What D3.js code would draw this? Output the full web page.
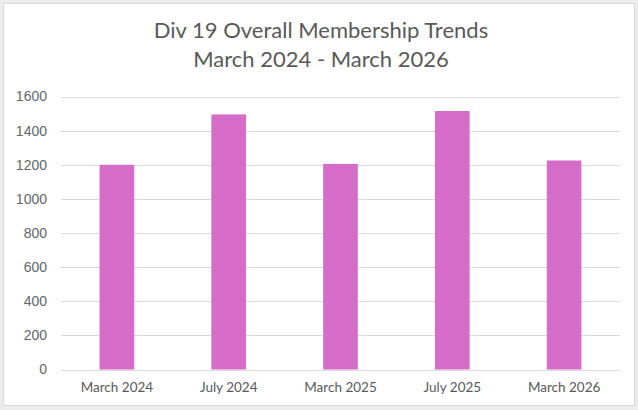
<!DOCTYPE html>
<html>
<head>
<meta charset="utf-8">
<script src="https://cdn.jsdelivr.net/npm/d3@7"></script>
<style>
  html, body { margin: 0; padding: 0; background: #ececec; }
  svg { display: block; }
</style>
</head>
<body>
<svg id="chart" width="638" height="410"></svg>
<script>
// Membership counts by reporting period
const periods = ["March 2024", "July 2024", "March 2025", "July 2025", "March 2026"];
const members = [1200, 1495, 1205, 1515, 1225];
const yTicks = [0, 200, 400, 600, 800, 1000, 1200, 1400, 1600];
const titleLines = ["Div 19 Overall Membership Trends", "March 2024 - March 2026"];

const svg = d3.select("#chart");
const W = 638, H = 410;
const margin = { top: 96.5, right: 18, bottom: 40.5, left: 61 };
const titleFont = "Lato, 'Noto Sans', sans-serif";
const valueFont = "'Liberation Sans', Arial, sans-serif";

// white chart panel with thin border
svg.append("rect")
  .attr("x", 3.5).attr("y", 3.5)
  .attr("width", 631).attr("height", 402)
  .attr("fill", "#ffffff").attr("stroke", "#d9d9d9").attr("stroke-width", 1);

const x = d3.scaleBand()
  .domain(periods)
  .range([margin.left, W - margin.right])
  .paddingInner(0.69)
  .paddingOuter(0.345);

const y = d3.scaleLinear()
  .domain([0, 1600])
  .range([H - margin.bottom, margin.top]);

// horizontal gridlines
svg.append("g")
  .selectAll("line")
  .data(yTicks)
  .join("line")
  .attr("x1", margin.left).attr("x2", W - margin.right)
  .attr("y1", d => Math.round(y(d)) + 0.5).attr("y2", d => Math.round(y(d)) + 0.5)
  .attr("stroke", "#d9d9d9").attr("stroke-width", 1.2);

// bars
svg.append("g")
  .selectAll("rect")
  .data(periods.map((p, i) => ({ p, v: members[i] })))
  .join("rect")
  .attr("x", d => x(d.p))
  .attr("width", x.bandwidth())
  .attr("y", d => y(d.v))
  .attr("height", d => y(0) - y(d.v))
  .attr("fill", "#d56dc8");

// y axis labels
const yAxis = svg.append("g")
  .attr("transform", `translate(47,0)`)
  .call(d3.axisLeft(y).tickValues(yTicks).tickSize(0).tickPadding(0).tickFormat(d3.format("d")));
yAxis.select(".domain").remove();
yAxis.selectAll("text")
  .attr("fill", "#666666").style("font-family", valueFont).style("font-size", "14px");

// x axis labels
const xAxis = svg.append("g")
  .attr("transform", `translate(0,${H - margin.bottom})`)
  .call(d3.axisBottom(x).tickSize(0).tickPadding(13));
xAxis.select(".domain").remove();
xAxis.selectAll("text")
  .attr("fill", "#595959").style("font-family", titleFont).style("font-size", "13.5px");

// title
svg.append("g")
  .selectAll("text")
  .data(titleLines)
  .join("text")
  .attr("x", 321)
  .attr("y", (d, i) => 38 + i * 29)
  .attr("text-anchor", "middle")
  .attr("fill", "#595959")
  .style("font-family", titleFont)
  .style("font-size", "22px")
  .text(d => d);
</script>
</body>
</html>
